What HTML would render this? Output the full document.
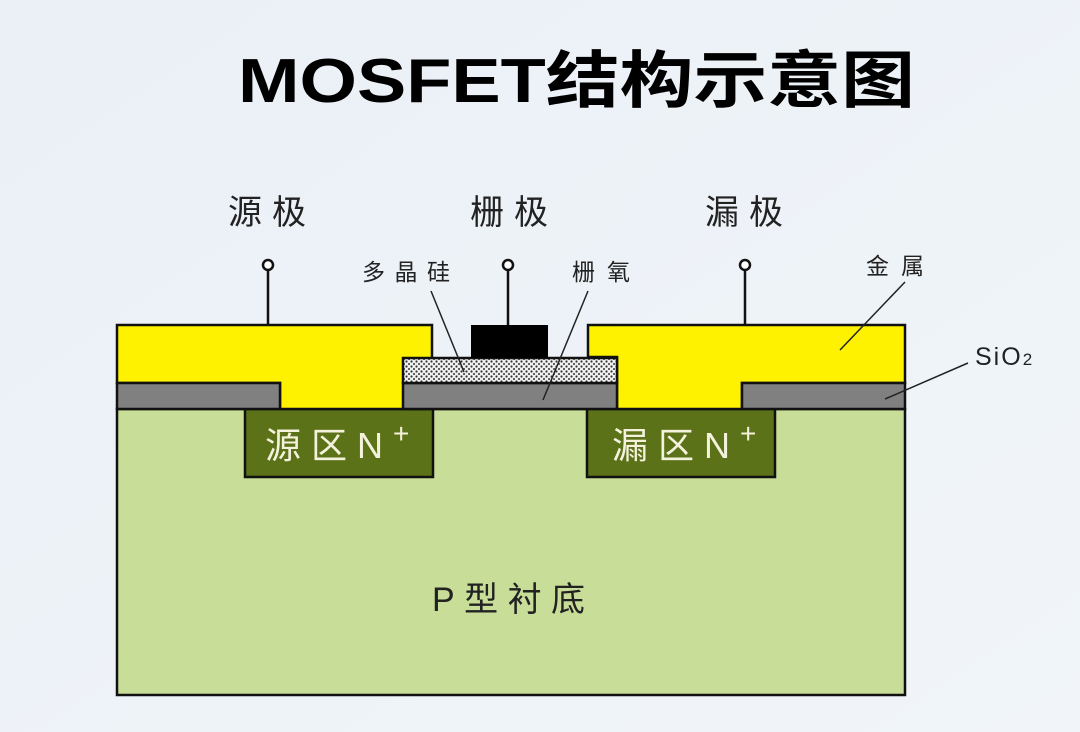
<!DOCTYPE html>
<html><head><meta charset="utf-8"><style>
html,body{margin:0;padding:0;background:#eef3f8;}
svg{display:block}
</style></head><body>
<svg width="1080" height="732" viewBox="0 0 1080 732" xmlns="http://www.w3.org/2000/svg" font-family="'Liberation Sans','Noto Sans CJK SC',sans-serif">
<defs>
<linearGradient id="bg" x1="0" y1="0" x2="1" y2="1"><stop offset="0" stop-color="#eaf0f6"/><stop offset="1" stop-color="#f1f5f9"/></linearGradient>
<pattern id="dots" width="5" height="5" patternUnits="userSpaceOnUse">
<rect width="5" height="5" fill="#f2f2f2"/><circle cx="1.5" cy="1.5" r="1.1" fill="#333"/><circle cx="4" cy="4" r="1.1" fill="#555"/>
</pattern>
</defs>
<rect width="1080" height="732" fill="url(#bg)"/>
<text x="238" y="102" font-size="62" font-weight="bold" textLength="677" lengthAdjust="spacingAndGlyphs" fill="#000">MOSFET结构示意图</text>

<rect x="117" y="409" width="788" height="286" fill="#c8dd98" stroke="#111" stroke-width="2.5"/>
<rect x="245" y="409" width="188" height="68" fill="#5c7219" stroke="#111" stroke-width="2.5"/>
<rect x="587" y="409" width="188" height="68" fill="#5c7219" stroke="#111" stroke-width="2.5"/>
<path d="M117 325 H432 V409 H280 V383 H117 Z" fill="#fff200" stroke="#111" stroke-width="2.5"/>
<rect x="117" y="383" width="163" height="26" fill="#808080" stroke="#111" stroke-width="2.5"/>
<path d="M588 325 H905 V383 H742 V409 H617 V357 H588 Z" fill="#fff200" stroke="#111" stroke-width="2.5"/>
<rect x="742" y="383" width="163" height="26" fill="#808080" stroke="#111" stroke-width="2.5"/>
<rect x="403" y="383" width="214" height="26" fill="#808080" stroke="#111" stroke-width="2.5"/>
<rect x="403" y="358" width="214" height="25" fill="url(#dots)" stroke="#111" stroke-width="2.5"/>
<rect x="471" y="325" width="77" height="33" fill="#000"/>

<g stroke="#111" stroke-width="2.5" fill="#fff">
<line x1="268" y1="270" x2="268" y2="325"/><circle cx="268" cy="265" r="5"/>
<line x1="508" y1="270" x2="508" y2="325"/><circle cx="508" cy="265" r="5"/>
<line x1="745" y1="270" x2="745" y2="325"/><circle cx="745" cy="265" r="5"/>
</g>
<g stroke="#222" stroke-width="1.5">
<line x1="431" y1="291" x2="464" y2="372"/>
<line x1="588" y1="291" x2="543" y2="400"/>
<line x1="905" y1="282" x2="840" y2="350"/>
<line x1="968" y1="363" x2="885" y2="399"/>
</g>

<g fill="#222" font-size="34">
<text x="228" y="224" textLength="78" lengthAdjust="spacing">源极</text>
<text x="470" y="224" textLength="78" lengthAdjust="spacing">栅极</text>
<text x="705" y="224" textLength="78" lengthAdjust="spacing">漏极</text>
</g>
<g fill="#222" font-size="23">
<text x="362" y="280" textLength="88" lengthAdjust="spacing">多晶硅</text>
<text x="572" y="280" textLength="58" lengthAdjust="spacing">栅氧</text>
<text x="866" y="274" textLength="58" lengthAdjust="spacing">金属</text>
</g>
<text x="975" y="365" font-size="25" fill="#222" letter-spacing="2">SiO<tspan font-size="17">2</tspan></text>

<g fill="#f4f2dc" font-size="36">
<text x="265" y="458" textLength="118" lengthAdjust="spacing">源区N</text><text x="393" y="443" font-size="28">+</text>
<text x="612" y="458" textLength="118" lengthAdjust="spacing">漏区N</text><text x="740" y="443" font-size="28">+</text>
</g>
<text x="432" y="611" font-size="34" fill="#222" textLength="153" lengthAdjust="spacing">P型衬底</text>
</svg>
</body></html>
